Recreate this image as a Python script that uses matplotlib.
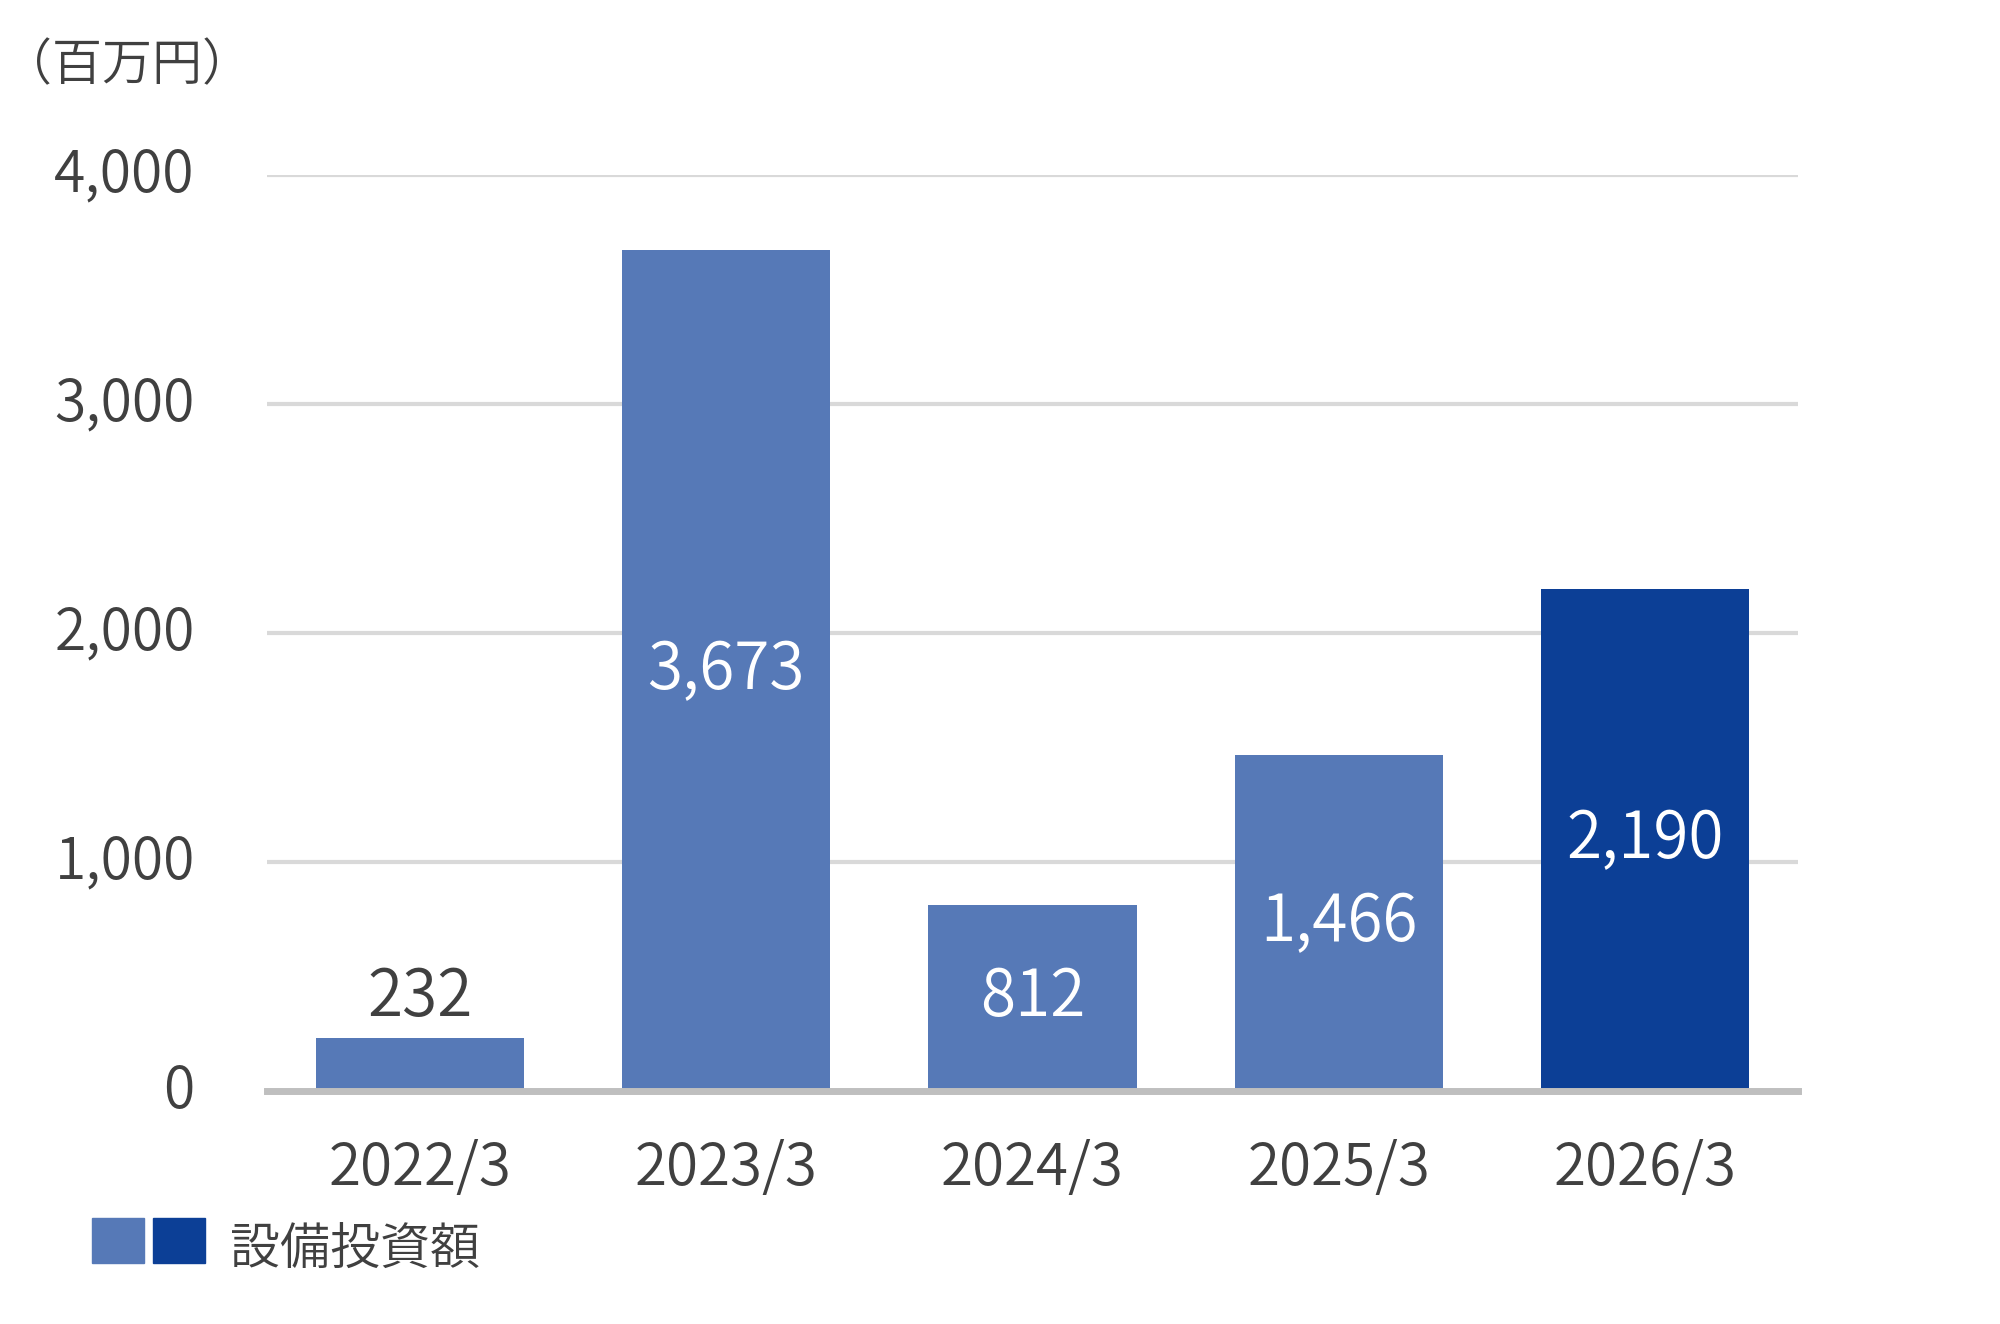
import matplotlib.pyplot as plt
import matplotlib.transforms as mtransforms
from matplotlib.patches import Rectangle

plt.rcParams['font.family'] = ['Noto Sans CJK JP', 'DejaVu Sans']

# データ
categories = ['2022/3', '2023/3', '2024/3', '2025/3', '2026/3']
values = [232, 3673, 812, 1466, 2190]
bar_colors = ['#5679B7', '#5679B7', '#5679B7', '#5679B7', '#0C3F96']
yticks = [0, 1000, 2000, 3000, 4000]
unit_label = '（百万円）'
legend_label = '設備投資額'

text_color = '#404040'
weight = 350

fig = plt.figure(figsize=(20, 13.24), dpi=100)
# 軸の位置 (ピクセルから換算)
W, H = 2000, 1324
ax = fig.add_axes([267 / W, 1 - 1091 / H, (1798 - 267) / W, (1091 - 175) / H])

x = range(len(categories))
bars = ax.bar(x, values, width=0.68, color=bar_colors, zorder=3)

ax.set_xlim(-0.5, len(categories) - 0.5)
ax.set_ylim(0, 4000)
ax.set_yticks(yticks)
ax.set_yticklabels([f'{v:,}' for v in yticks])
ax.set_xticks(list(x))
ax.set_xticklabels(categories)
ax.tick_params(axis='x', length=0, labelsize=42, colors=text_color, pad=35)
ax.tick_params(axis='y', length=0, labelsize=41, colors=text_color, pad=52)
shift_up = mtransforms.ScaledTranslation(0, 0.06, fig.dpi_scale_trans)
for lbl in ax.get_yticklabels():
    lbl.set_fontweight(weight)
    lbl.set_transform(lbl.get_transform() + shift_up)
for lbl in ax.get_xticklabels():
    lbl.set_fontweight(weight)

ax.grid(axis='y', color='#D9D9D9', linewidth=3, zorder=0)
for s in ['top', 'right', 'left']:
    ax.spines[s].set_visible(False)
ax.spines['bottom'].set_color('#BFBFBF')
ax.spines['bottom'].set_linewidth(5)
ax.spines['bottom'].set_zorder(4)

# 値ラベル
for b, v in zip(bars, values):
    label = f'{v:,}'
    if v < 500:
        ax.text(b.get_x() + b.get_width() / 2, v + 30, label, ha='center', va='bottom',
                fontsize=46, color=text_color, fontweight=weight)
    else:
        ax.text(b.get_x() + b.get_width() / 2, v / 2, label, ha='center', va='center',
                fontsize=46, color='white', fontweight=weight)

# 単位
fig.text(0.001, 1 - 66 / H, unit_label, ha='left', va='center', fontsize=36,
         color=text_color, fontweight=weight)

# 凡例
fig.patches.append(Rectangle((92 / W, 1 - 1263 / H), 52 / W, 45 / H,
                             transform=fig.transFigure, color=bar_colors[0]))
fig.patches.append(Rectangle((153 / W, 1 - 1263 / H), 52 / W, 45 / H,
                             transform=fig.transFigure, color=bar_colors[-1]))
fig.text(230 / W, 1 - 1250 / H, legend_label, ha='left', va='center', fontsize=36,
         color=text_color, fontweight=weight)

fig.savefig('out.png', dpi=100)
